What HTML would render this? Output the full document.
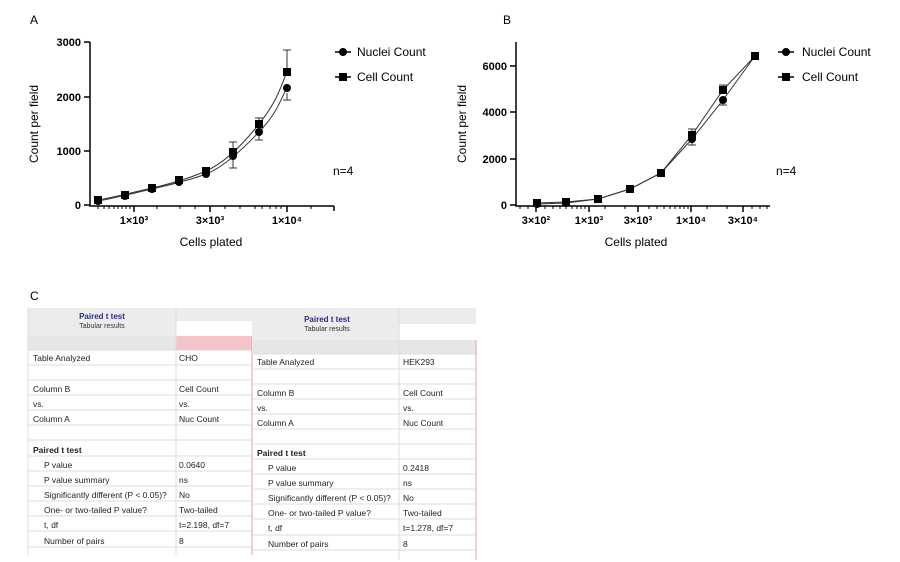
<!DOCTYPE html><html><head><style>body{margin:0;background:#fff}svg{display:block}</style></head><body>
<svg width="900" height="562" xmlns="http://www.w3.org/2000/svg" font-family="Liberation Sans, sans-serif">
<text x="30" y="24" font-size="12">A</text>
<text x="503" y="24" font-size="12">B</text>
<text x="30" y="300" font-size="12">C</text>
<!-- Chart A -->
<g stroke="#000" stroke-width="1.5" fill="none">
<path d="M90,42V206H334"/>
<path d="M84,42H90M84,97H90M84,151H90M84,205H90"/>
<path d="M134,206v6M210,206v6M287,206v6M334,206v5" />
</g>
<g stroke="#000" stroke-width="1">
<path d="M98,206v3M104,206v3M109,206v3M114,206v3M118,206v3M122,206v3M126,206v3M130,206v3M157,206v3M180,206v3M195,206v3M225,206v3M240,206v3M255,206v3M262,206v3M270,206v3M276,206v3M281,206v3M311,206v3M334,206v3"/>
</g>
<g font-size="11" font-weight="bold" text-anchor="end"><text x="81" y="46">3000</text><text x="81" y="101">2000</text><text x="81" y="155">1000</text><text x="81" y="209">0</text></g>
<g font-size="11" font-weight="bold" text-anchor="middle"><text x="134" y="224">1×10³</text><text x="210" y="224">3×10³</text><text x="287" y="224">1×10⁴</text></g>
<text x="211" y="246" font-size="12" text-anchor="middle">Cells plated</text>
<text transform="translate(38,124) rotate(-90)" font-size="12" text-anchor="middle">Count per field</text>
<text x="333" y="175" font-size="12">n=4</text>
<g stroke="#333" fill="none" stroke-width="1">
<path d="M98,201 C115,198 130,194 152,189 S190,180 206,174 S240,152 259,132 S280,100 287,88"/>
<path d="M98,200 C115,197 130,193 152,188 S190,178 206,171 S240,148 259,124 S280,88 287,72"/>
<path d="M287,72V50M283,50h8M287,93v7M283,100h8M233,152v-10M229,142h8M233,156v12M229,168h8M259,132v8M255,140h8M259,124v-6M255,118h8"/>
</g>
<g fill="#000">
<circle cx="98" cy="201" r="4"/><circle cx="125" cy="196" r="4"/><circle cx="152" cy="189" r="4"/><circle cx="179" cy="182" r="4"/><circle cx="206" cy="174" r="4"/><circle cx="233" cy="156" r="4"/><circle cx="259" cy="132" r="4"/><circle cx="287" cy="88" r="4"/>
<rect x="94" y="196" width="8" height="8"/><rect x="121" y="191" width="8" height="8"/><rect x="148" y="184" width="8" height="8"/><rect x="175" y="176" width="8" height="8"/><rect x="202" y="167" width="8" height="8"/><rect x="229" y="148" width="8" height="8"/><rect x="255" y="120" width="8" height="8"/><rect x="283" y="68" width="8" height="8"/>
</g>
<g stroke="#000" stroke-width="1.5"><path d="M335,52h16M335,77h16"/></g>
<circle cx="343" cy="52" r="4"/><rect x="339" y="73" width="8" height="8"/>
<text x="357" y="56" font-size="12">Nuclei Count</text><text x="357" y="81" font-size="12">Cell Count</text>
<!-- Chart B -->
<g stroke="#000" stroke-width="1.5" fill="none">
<path d="M516,42V206H770"/>
<path d="M510,66H516M510,112H516M510,159H516M510,205H516"/>
<path d="M536,206v6M589,206v6M638,206v6M691,206v6M743,206v6"/>
</g>
<g stroke="#000" stroke-width="1"><path d="M520,206v3M528,206v3M545,206v3M553,206v3M560,206v3M566,206v3M572,206v3M577,206v3M581,206v3M585,206v3M605,206v3M625,206v3M649,206v3M657,206v3M664,206v3M670,206v3M675,206v3M680,206v3M684,206v3M688,206v3M707,206v3M727,206v3M752,206v3M760,206v3M767,206v3"/></g>
<g font-size="11" font-weight="bold" text-anchor="end"><text x="507" y="70">6000</text><text x="507" y="116">4000</text><text x="507" y="163">2000</text><text x="507" y="209">0</text></g>
<g font-size="11" font-weight="bold" text-anchor="middle"><text x="536" y="224">3×10²</text><text x="589" y="224">1×10³</text><text x="638" y="224">3×10³</text><text x="691" y="224">1×10⁴</text><text x="743" y="224">3×10⁴</text></g>
<text x="636" y="246" font-size="12" text-anchor="middle">Cells plated</text>
<text transform="translate(466,124) rotate(-90)" font-size="12" text-anchor="middle">Count per field</text>
<text x="776" y="175" font-size="12">n=4</text>
<g stroke="#333" fill="none" stroke-width="1">
<polyline points="537,204 566,203 598,199 630,189 661,173 692,139 723,100 755,56"/>
<polyline points="537,203 566,202 598,199 630,189 661,173 692,135 723,90 755,56"/>
<path d="M692,135v-6M688,129h8M692,139v6M688,145h8M723,90v-5M719,85h8M723,100v5M719,105h8"/>
</g>
<g fill="#000">
<circle cx="537" cy="204" r="4"/><circle cx="566" cy="203" r="4"/><circle cx="598" cy="199" r="4"/><circle cx="630" cy="189" r="4"/><circle cx="661" cy="173" r="4"/><circle cx="692" cy="139" r="4"/><circle cx="723" cy="100" r="4"/><circle cx="755" cy="56" r="4"/>
<rect x="533" y="199" width="8" height="8"/><rect x="562" y="198" width="8" height="8"/><rect x="594" y="195" width="8" height="8"/><rect x="626" y="185" width="8" height="8"/><rect x="657" y="169" width="8" height="8"/><rect x="688" y="131" width="8" height="8"/><rect x="719" y="86" width="8" height="8"/><rect x="751" y="52" width="8" height="8"/>
</g>
<g stroke="#000" stroke-width="1.5"><path d="M778,52h16M778,77h16"/></g>
<circle cx="786" cy="52" r="4"/><rect x="782" y="73" width="8" height="8"/>
<text x="802" y="56" font-size="12">Nuclei Count</text><text x="802" y="81" font-size="12">Cell Count</text>
<!-- Table left -->
<rect x="28" y="308" width="224" height="28" fill="#ececec"/>
<rect x="176" y="321" width="76" height="15" fill="#fff"/>
<rect x="28" y="336" width="148" height="14" fill="#e6e6e6"/>
<rect x="176" y="336" width="76" height="14" fill="#f4c4c8"/>
<g stroke="#ddd" stroke-width="1"><path d="M28,350H252M28,365H252M28,380H252M28,395H252M28,410H252M28,425H252M28,440H252M28,456H252M28,471H252M28,486H252M28,501H252M28,516H252M28,531H252M28,547H252M176,308V555M28,308V555"/></g>
<path d="M252,336V555" stroke="#e8a0a8"/>
<text x="102" y="319" font-size="8" font-weight="bold" fill="#2a2a8a" text-anchor="middle">Paired t test</text>
<text x="102" y="328" font-size="7" fill="#333" text-anchor="middle">Tabular results</text>
<g font-size="8.5" fill="#222">
<text x="33" y="361">Table Analyzed</text><text x="179" y="361">CHO</text>
<text x="33" y="392">Column B</text><text x="179" y="392">Cell Count</text>
<text x="33" y="407">vs.</text><text x="179" y="407">vs.</text>
<text x="33" y="422">Column A</text><text x="179" y="422">Nuc Count</text>
<text x="33" y="453" font-weight="bold">Paired t test</text>
<text x="44" y="468">P value</text><text x="179" y="468">0.0640</text>
<text x="44" y="483">P value summary</text><text x="179" y="483">ns</text>
<text x="44" y="498">Significantly different (P &lt; 0.05)?</text><text x="179" y="498">No</text>
<text x="44" y="513">One- or two-tailed P value?</text><text x="179" y="513">Two-tailed</text>
<text x="44" y="528">t, df</text><text x="179" y="528">t=2.198, df=7</text>
<text x="44" y="544">Number of pairs</text><text x="179" y="544">8</text>
</g>
<!-- Table right -->
<rect x="252" y="308" width="224" height="32" fill="#ececec"/>
<rect x="399" y="324" width="77" height="16" fill="#fff"/>
<rect x="252" y="340" width="224" height="14" fill="#e6e6e6"/>
<g stroke="#ddd" stroke-width="1"><path d="M252,354H476M252,369H476M252,384H476M252,399H476M252,414H476M252,429H476M252,444H476M252,459H476M252,474H476M252,489H476M252,504H476M252,519H476M252,535H476M252,550H476M399,308V560"/></g>
<path d="M476,340V560" stroke="#e8a0a8"/>
<text x="327" y="322" font-size="8" font-weight="bold" fill="#2a2a8a" text-anchor="middle">Paired t test</text>
<text x="327" y="331" font-size="7" fill="#333" text-anchor="middle">Tabular results</text>
<g font-size="8.5" fill="#222">
<text x="257" y="365">Table Analyzed</text><text x="403" y="365">HEK293</text>
<text x="257" y="396">Column B</text><text x="403" y="396">Cell Count</text>
<text x="257" y="411">vs.</text><text x="403" y="411">vs.</text>
<text x="257" y="426">Column A</text><text x="403" y="426">Nuc Count</text>
<text x="257" y="456" font-weight="bold">Paired t test</text>
<text x="268" y="471">P value</text><text x="403" y="471">0.2418</text>
<text x="268" y="486">P value summary</text><text x="403" y="486">ns</text>
<text x="268" y="501">Significantly different (P &lt; 0.05)?</text><text x="403" y="501">No</text>
<text x="268" y="516">One- or two-tailed P value?</text><text x="403" y="516">Two-tailed</text>
<text x="268" y="531">t, df</text><text x="403" y="531">t=1.278, df=7</text>
<text x="268" y="547">Number of pairs</text><text x="403" y="547">8</text>
</g>
</svg></body></html>
